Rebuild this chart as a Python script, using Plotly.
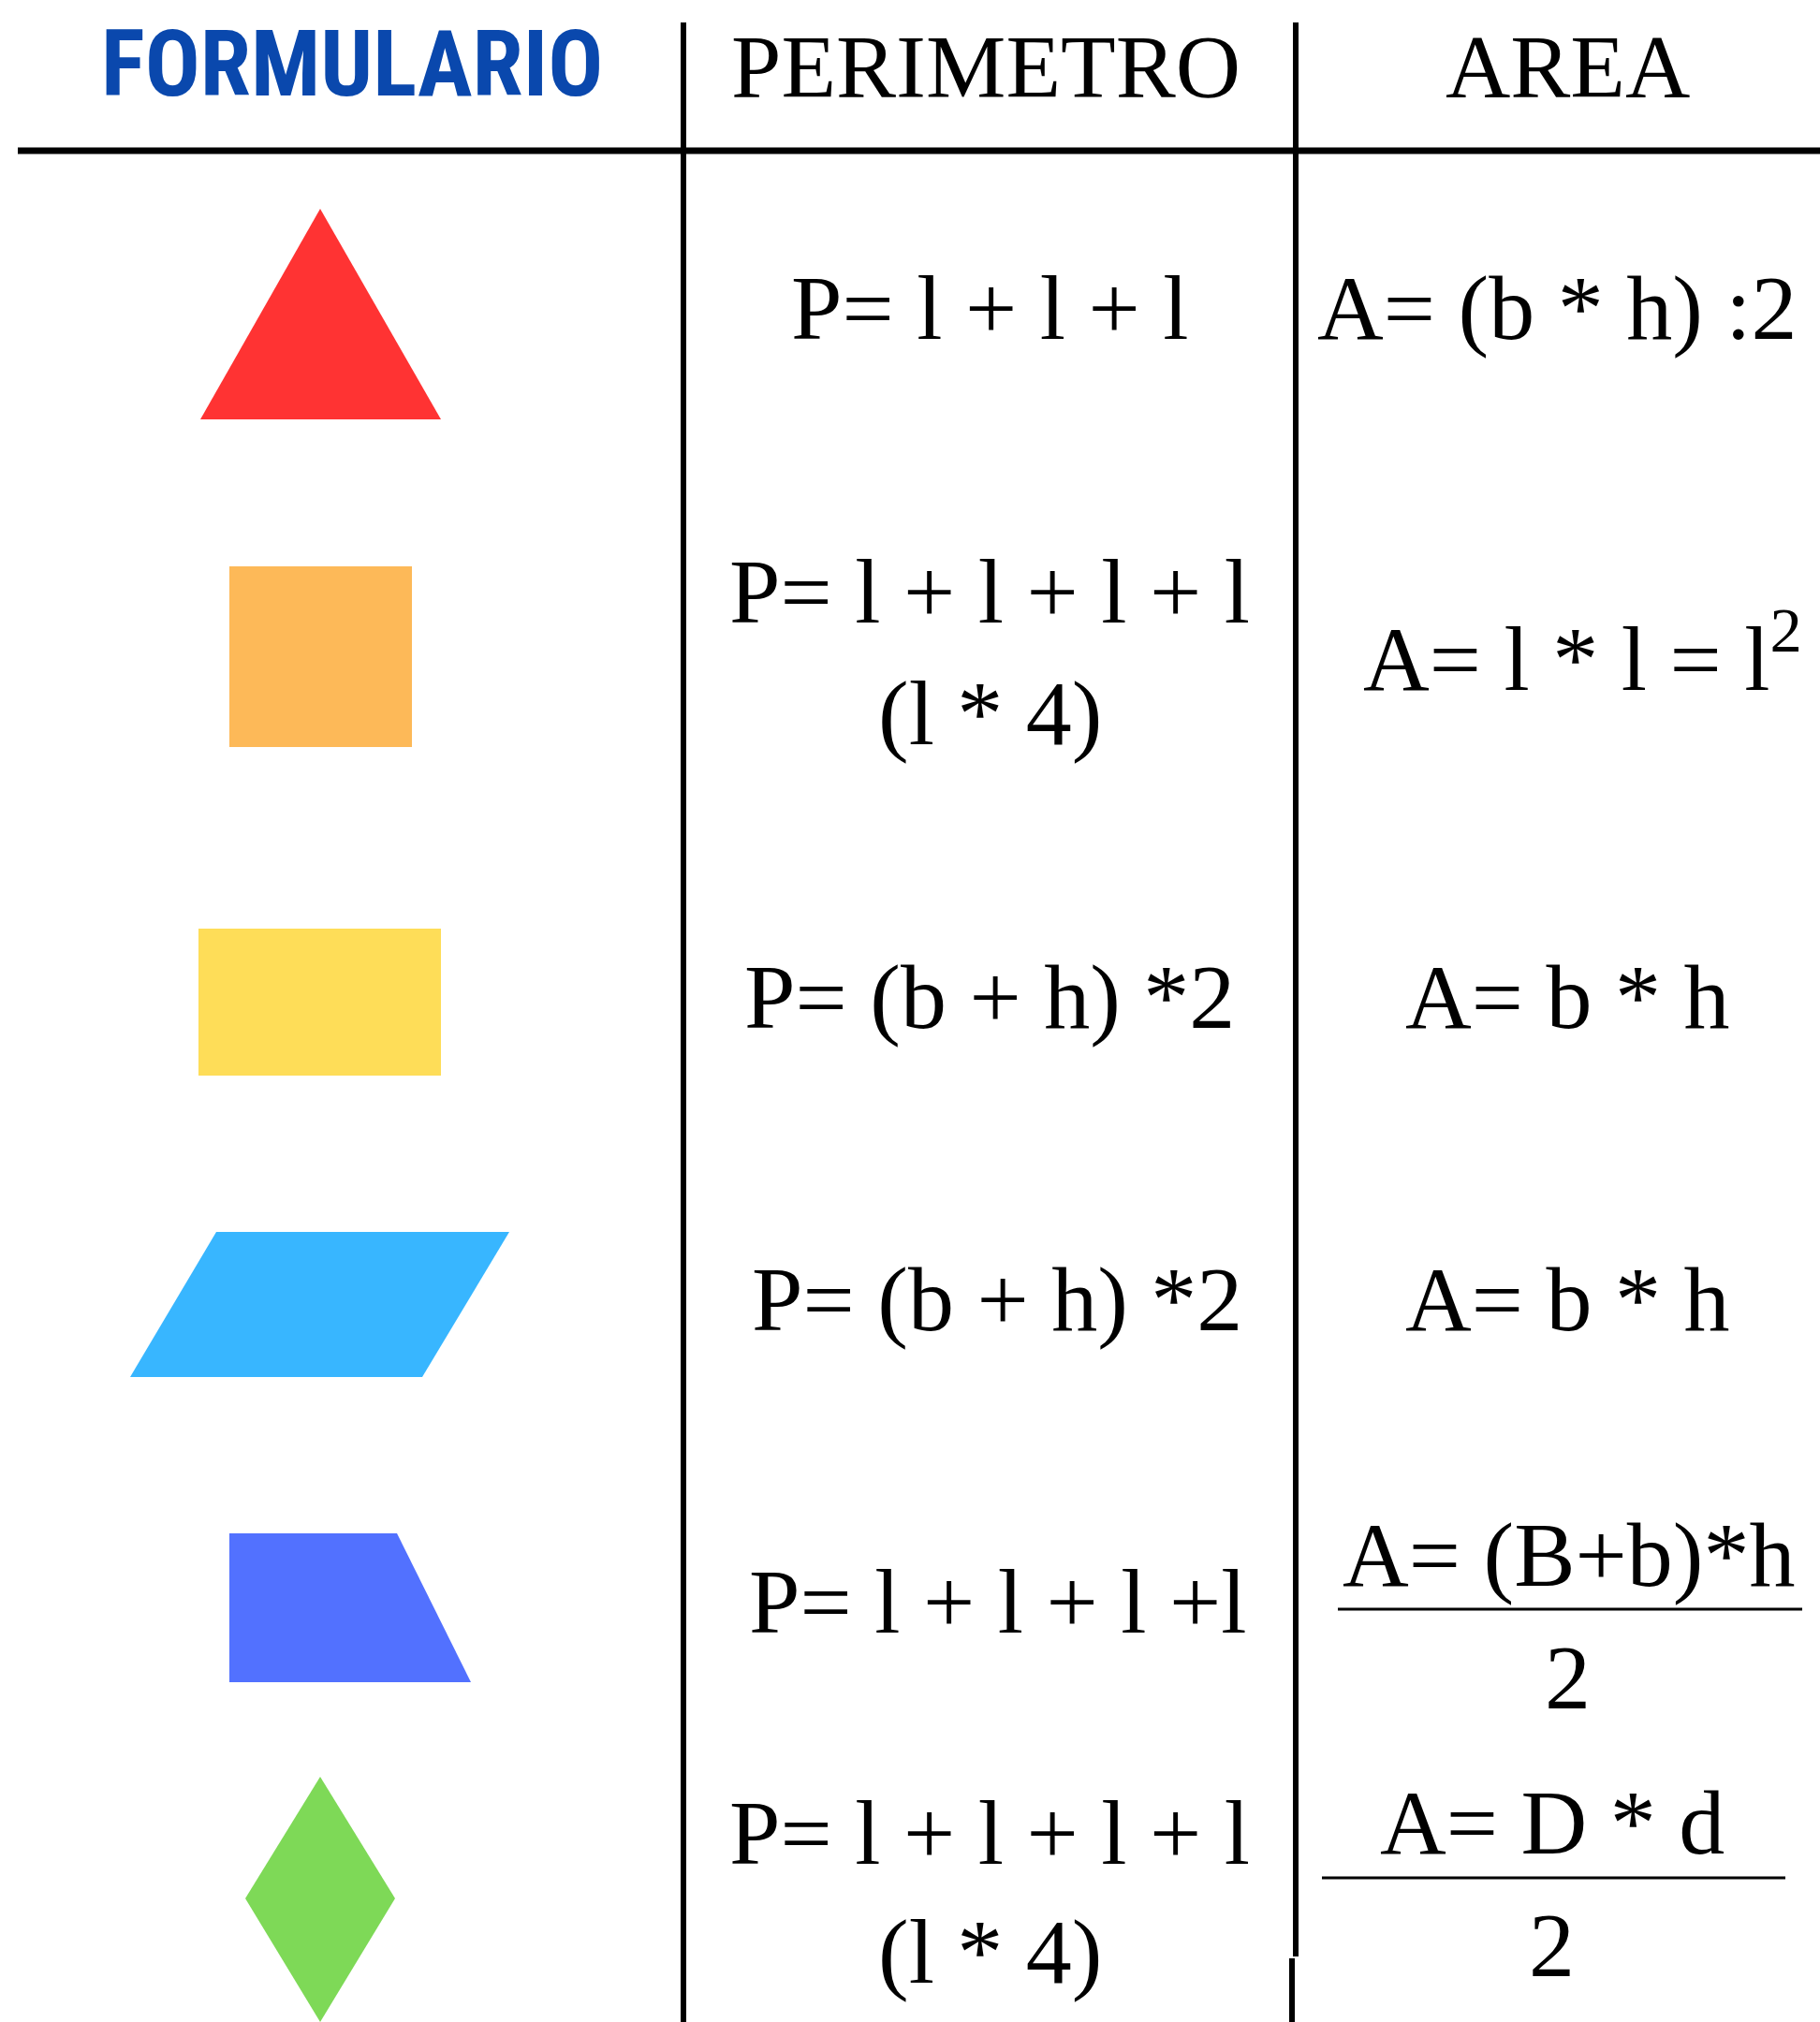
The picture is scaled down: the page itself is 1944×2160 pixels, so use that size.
import plotly.graph_objects as go

# --- content ---
headers = ["FORMULARIO", "PERIMETRO", "AREA"]
shape_names = ["triangulo", "cuadrado", "rectangulo", "romboide", "trapecio", "rombo"]
shape_colors = ["#ff3333", "#fdb958", "#fedd58", "#38b6ff", "#5271ff", "#7ed957"]
perimeter_text = [
    ["P= l + l + l"],
    ["P= l + l + l + l", "(l * 4)"],
    ["P= (b + h) *2"],
    ["P= (b + h) *2"],
    ["P= l + l + l +l"],
    ["P= l + l + l + l", "(l * 4)"],
]
area_numer = ["A= (b * h) :2", "A= l * l = l<sup>2</sup>", "A= b * h", "A= b * h",
              "A= (B+b)*h", "A= D * d"]
area_denom = [None, None, None, None, "2", "2"]

# --- geometry (page pixels) ---
W, H = 1944, 2160
shape_x = [
    [342, 471, 214],
    [245, 440, 440, 245],
    [212, 471, 471, 212],
    [231, 544, 451, 139],
    [245, 424, 503, 245],
    [342, 422, 342, 262],
]
shape_y = [
    [223, 448, 448],
    [605, 605, 798, 798],
    [992, 992, 1149, 1149],
    [1316, 1316, 1471, 1471],
    [1638, 1638, 1797, 1797],
    [1898, 2028, 2160, 2028],
]
perim_pos = [
    [(1057, 329)],
    [(1057, 632), (1058, 762)],
    [(1057, 1065)],
    [(1065, 1388)],
    [(1066, 1711)],
    [(1057, 1958), (1058, 2085)],
]
area_pos = [(1663, 329), (1690, 696), (1674, 1065), (1674, 1388), (1675, 1661), (1658, 1947)]
denom_pos = [None, None, None, None, (1674, 1792), (1657, 2078)]
frac_lines = [None, None, None, None, (1429, 1925, 1719), (1412, 1907, 2006)]

SERIF = "Liberation Serif, Times New Roman, serif"
FS = 98

fig = go.Figure()

for name, col, xs, ys in zip(shape_names, shape_colors, shape_x, shape_y):
    fig.add_trace(go.Scatter(
        x=xs + [xs[0]], y=ys + [ys[0]], mode="lines", fill="toself",
        fillcolor=col, line=dict(width=0, color=col), name=name,
        hoverinfo="skip", showlegend=False,
    ))

annotations = []
# header
annotations.append(dict(x=376, y=68, text="<b>" + headers[0] + "</b>",
                        font=dict(family="Roboto Condensed, Noto Sans Condensed, Roboto, sans-serif",
                                  size=98, color="#0a48ad")))
annotations.append(dict(x=1053, y=71, text=headers[1], font=dict(family=SERIF, size=96, color="#000")))
annotations.append(dict(x=1674, y=71, text=headers[2], font=dict(family=SERIF, size=96, color="#000")))

for lines, pos in zip(perimeter_text, perim_pos):
    for t, (px, py) in zip(lines, pos):
        annotations.append(dict(x=px, y=py, text=t, font=dict(family=SERIF, size=FS, color="#000")))

for t, (ax, ay) in zip(area_numer, area_pos):
    annotations.append(dict(x=ax, y=ay, text=t, font=dict(family=SERIF, size=FS, color="#000")))

for t, p in zip(area_denom, denom_pos):
    if t is not None:
        annotations.append(dict(x=p[0], y=p[1], text=t, font=dict(family=SERIF, size=FS, color="#000")))

for a in annotations:
    a.update(xref="x", yref="y", showarrow=False, xanchor="center", yanchor="middle")

shapes = [
    # header rule
    dict(type="line", x0=19, x1=W, y0=161, y1=161, line=dict(color="#000", width=7)),
    # column dividers
    dict(type="line", x0=730, x1=730, y0=24, y1=H, line=dict(color="#000", width=6)),
    dict(type="line", x0=1384, x1=1384, y0=24, y1=2090, line=dict(color="#000", width=6)),
    dict(type="line", x0=1380, x1=1380, y0=2092, y1=H, line=dict(color="#000", width=6)),
]
for fl in frac_lines:
    if fl is not None:
        shapes.append(dict(type="line", x0=fl[0], x1=fl[1], y0=fl[2], y1=fl[2],
                           line=dict(color="#000", width=3)))
for s in shapes:
    s.update(xref="x", yref="y", layer="above")

fig.update_layout(
    width=W, height=H,
    margin=dict(l=0, r=0, t=0, b=0),
    paper_bgcolor="white", plot_bgcolor="white",
    xaxis=dict(range=[0, W], visible=False, fixedrange=True),
    yaxis=dict(range=[H, 0], visible=False, fixedrange=True),
    annotations=annotations, shapes=shapes,
    showlegend=False,
)

fig.write_html("out.html", config=dict(displayModeBar=False),
               post_script="document.body.style.margin='0';document.body.style.overflow='hidden';")
